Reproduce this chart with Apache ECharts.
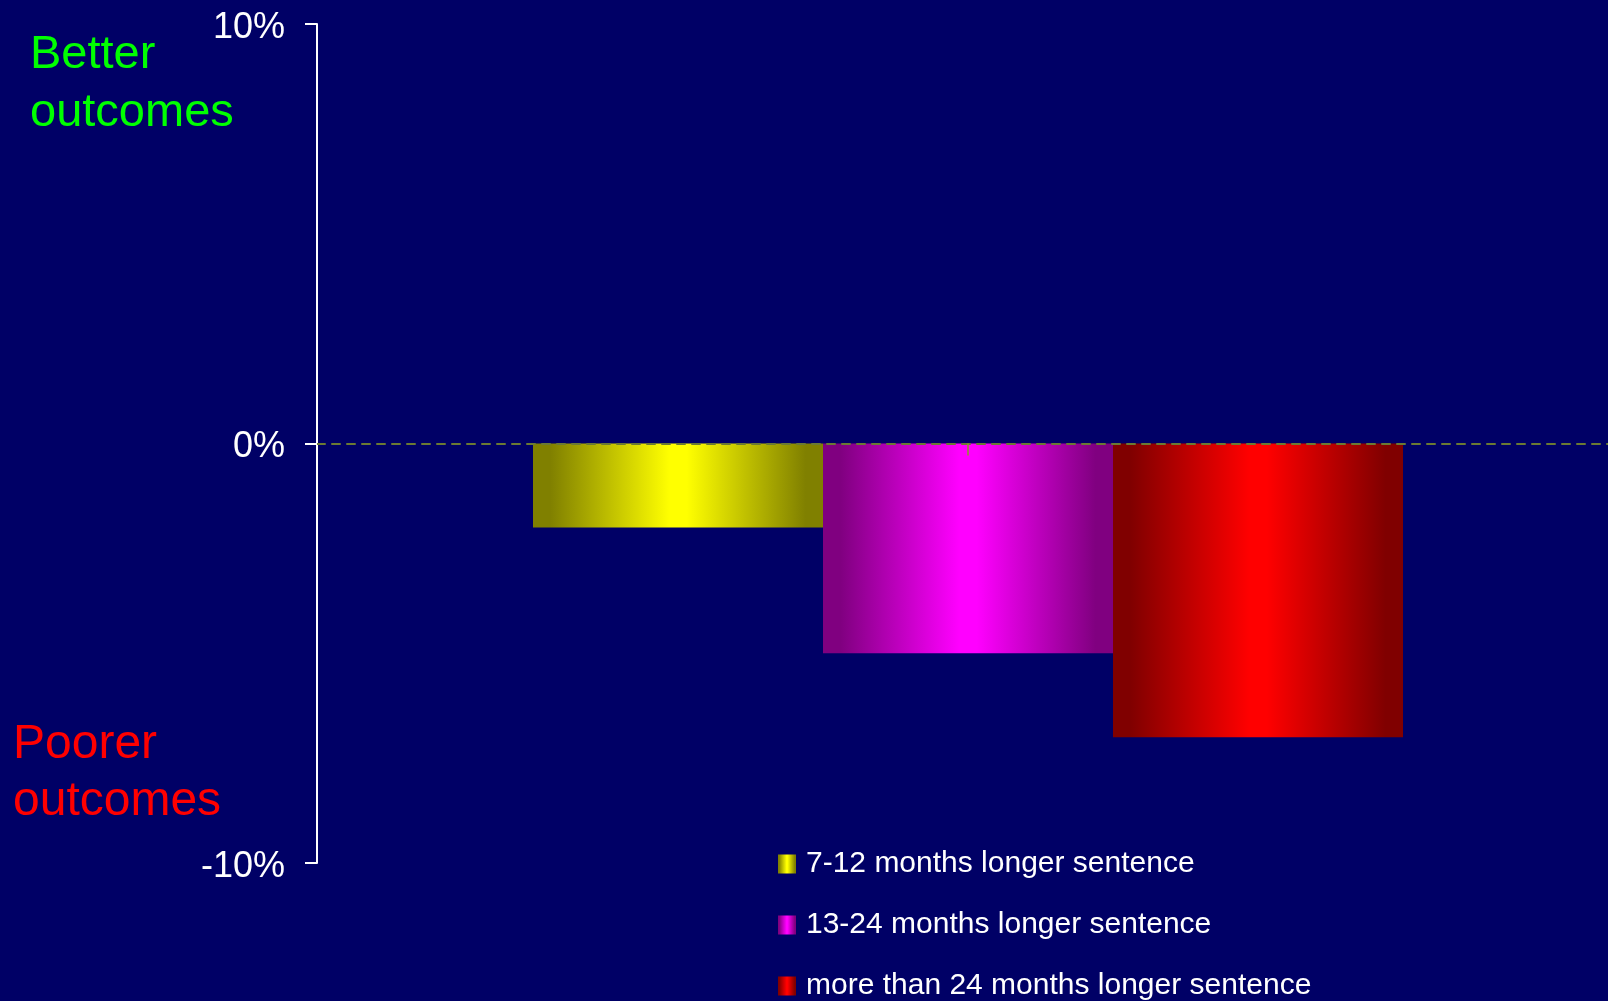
<!DOCTYPE html>
<html>
<head>
<meta charset="utf-8">
<script src="https://cdn.jsdelivr.net/npm/echarts@6/dist/echarts.min.js"></script>
<style>
html,body{margin:0;padding:0;background:#000066;}
#chart{width:1608px;height:1001px;}
</style>
</head>
<body>
<div id="chart"></div>
<script>
// ---- data ----
const categories = ['All'];
const seriesNames = ['7-12 months longer sentence', '13-24 months longer sentence', 'more than 24 months longer sentence'];
const values712 = [-2.0];
const values1324 = [-5.0];
const values24plus = [-7.0];
const yTicks = [-10, 0, 10];

const SANS = "'Liberation Sans', Arial, sans-serif";

function grad(dark, bright) {
  return new echarts.graphic.LinearGradient(0, 0, 1, 0, [
    {offset: 0, color: dark},
    {offset: 0.06, color: dark},
    {offset: 0.47, color: bright},
    {offset: 0.53, color: bright},
    {offset: 0.94, color: dark},
    {offset: 1, color: dark}
  ]);
}
const colors = [grad('#808000', '#ffff00'), grad('#800080', '#ff00ff'), grad('#800000', '#ff0000')];
const seriesValues = [values712, values1324, values24plus];

const chart = echarts.init(document.getElementById('chart'), null, {renderer: 'canvas'});
chart.setOption({
  backgroundColor: '#000066',
  animation: false,
  title: [
    {text: 'Better\noutcomes', left: 25, top: 21,
     textStyle: {color: '#00ff00', fontSize: 47, fontWeight: 'normal', fontFamily: SANS, lineHeight: 58}},
    {text: 'Poorer\noutcomes', left: 8, top: 711,
     textStyle: {color: '#ff0000', fontSize: 48, fontWeight: 'normal', fontFamily: SANS, lineHeight: 57}}
  ],
  grid: {left: 317, width: 1302, top: 24, bottom: 138, containLabel: false, outerBoundsMode: 'none'},
  legend: {
    orient: 'vertical', left: 778, top: 849, height: 400, padding: 0,
    icon: 'rect',
    itemWidth: 18, itemHeight: 19, itemGap: 31,
    textStyle: {color: '#ffffff', fontSize: 30, fontFamily: SANS, lineHeight: 30, padding: [0, 0, 0, 5]},
    data: seriesNames
  },
  xAxis: {
    type: 'category', data: categories, position: 'bottom', z: 10,
    axisLine: {onZero: true, lineStyle: {color: '#6b7a33', width: 2, type: [8, 7]}},
    axisTick: {show: true, alignWithLabel: true, length: 12, lineStyle: {color: '#8a9a20', width: 1.5}},
    axisLabel: {show: false}, splitLine: {show: false}
  },
  yAxis: {
    type: 'value', min: yTicks[0], max: yTicks[2], interval: 10, z: 10,
    axisLine: {show: true, lineStyle: {color: '#ffffff', width: 2}},
    axisTick: {show: true, length: 12, lineStyle: {color: '#ffffff', width: 2}},
    axisLabel: {color: '#ffffff', fontSize: 36, fontFamily: SANS, margin: 32,
      formatter: v => '{v|' + v + '%}',
      rich: {v: {color: '#ffffff', fontSize: 36, fontFamily: SANS, padding: [8, 0, 0, 0]}}},
    splitLine: {show: false}
  },
  series: seriesNames.map((n, i) => ({
    name: n, type: 'bar', data: seriesValues[i],
    barWidth: 290, barGap: '0%', z: 2,
    itemStyle: {color: colors[i]}
  }))
});
</script>
</body>
</html>
